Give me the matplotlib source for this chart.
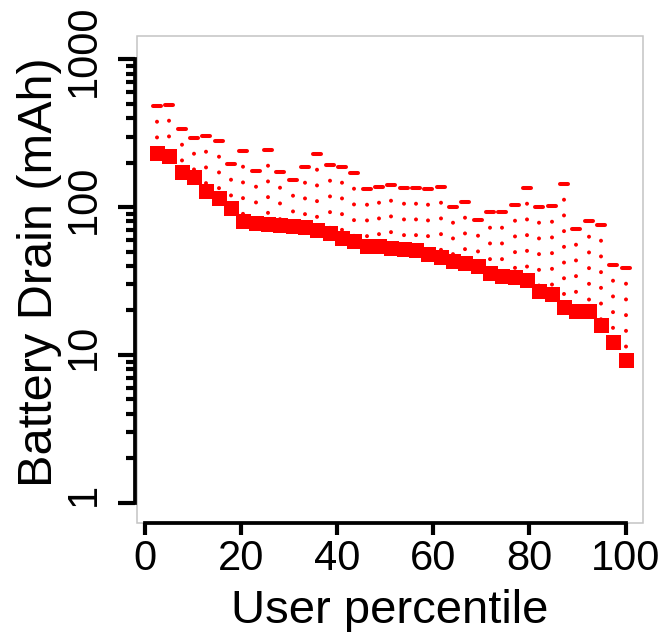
import matplotlib
matplotlib.use('Agg')
import matplotlib.pyplot as plt
import matplotlib.transforms as mtransforms
from matplotlib.markers import MarkerStyle
from matplotlib.patches import Rectangle
from matplotlib.ticker import NullFormatter

plt.rcParams['font.family'] = ['Liberation Sans', 'DejaVu Sans']
plt.rcParams['lines.scale_dashes'] = False

# user percentile buckets (39 users)
percentile = [2.56, 5.13, 7.69, 10.26, 12.82, 15.38, 17.95, 20.51, 23.08, 25.64,
              28.21, 30.77, 33.33, 35.90, 38.46, 41.03, 43.59, 46.15, 48.72, 51.28,
              53.85, 56.41, 58.97, 61.54, 64.10, 66.67, 69.23, 71.79, 74.36, 76.92,
              79.49, 82.05, 84.62, 87.18, 89.74, 92.31, 94.87, 97.44, 100.0]
# typical drain (squares)
drain = [231, 223, 174, 161, 128, 116, 99.4, 80.8, 78.7, 76.6,
         76, 74.8, 73.6, 70.6, 67.4, 61.6, 59, 54.6, 54.6, 52.9,
         51.8, 51, 48, 45.7, 43.2, 41.8, 39.8, 35.6, 34, 33.5,
         32.4, 27.3, 26, 21.2, 19.9, 19.9, 16, 12.3, 9.3]
# max drain (dashes)
drain_max = [485, 493, 337, 295, 303, 281, 196, 241, 177, 242,
             174, 152, 188, 228, 194, 188, 169, 132, 137, 142,
             135, 135, 132, 137, 99.7, 109, 81.5, 93.1, 93.1, 104,
             135, 100.7, 102, 142.6, 71.1, 80.9, 75.3, 40.8, 38.9]

yticks = [1, 10, 100, 1000]
ytick_labels = ['1', '10', '100', '1000']
xticks = [0, 20, 40, 60, 80, 100]

fig = plt.figure(figsize=(6.6, 6.32), dpi=100)
ax = fig.add_axes([137/660, 109/632, 506/660, 487/632])

# dotted range from max down to the typical value
for x, lo, hi in zip(percentile, drain, drain_max):
    ax.plot([x, x], [hi, lo], color='red', lw=2.9, dashes=(0.01, 11.3),
            dash_capstyle='round')
ax.plot(percentile, drain_max, ls='none', color='red',
        marker=MarkerStyle('_', capstyle='round'), ms=5.8, mew=2.9)
ax.plot(percentile, drain, ls='none', color='red', marker='s', ms=10.8, mew=0)

ax.set_yscale('log')
ax.set_xlim(-1.56, 103.6)
ax.set_ylim(0.73, 1439)

# light grey box, R-style detached axes
for s in ['top', 'right']:
    ax.spines[s].set_visible(False)
ax.add_patch(Rectangle((0, 0), 1, 1, transform=ax.transAxes, fill=False,
                       ec='#c4c4c4', lw=1.1, clip_on=False, zorder=0.5))
ax.spines['left'].set_position(('outward', 1.5))
ax.spines['left'].set_bounds(1, 1000)
ax.spines['bottom'].set_bounds(0, 100)
for s in ['left', 'bottom']:
    ax.spines[s].set_linewidth(2.7)

ax.set_xticks(xticks)
ax.set_yticks(yticks)
ax.set_yticklabels(ytick_labels, rotation=90, va='center')
ax.set_yticks([k * 10**d for d in range(3) for k in range(2, 10)], minor=True)
ax.yaxis.set_minor_formatter(NullFormatter())
ax.tick_params(axis='y', which='major', length=12.5, width=3, labelsize=30, pad=10)
ax.tick_params(axis='y', which='minor', length=6.5, width=3)
ax.tick_params(axis='x', which='major', length=8.5, width=3, labelsize=30, pad=3)

# R draws these rotated labels a little above the tick
shift = mtransforms.ScaledTranslation(0, 6 / 72, fig.dpi_scale_trans)
for lab in ax.get_yticklabels():
    lab.set_transform(lab.get_transform() + shift)

ax.set_xlabel('User percentile', fontsize=34)
ax.set_ylabel('Battery Drain (mAh)', fontsize=35)
ax.xaxis.set_label_coords(0.5, -0.1355)
ax.yaxis.set_label_coords(-0.148, 0.515)

fig.savefig('out.png', dpi=100)
